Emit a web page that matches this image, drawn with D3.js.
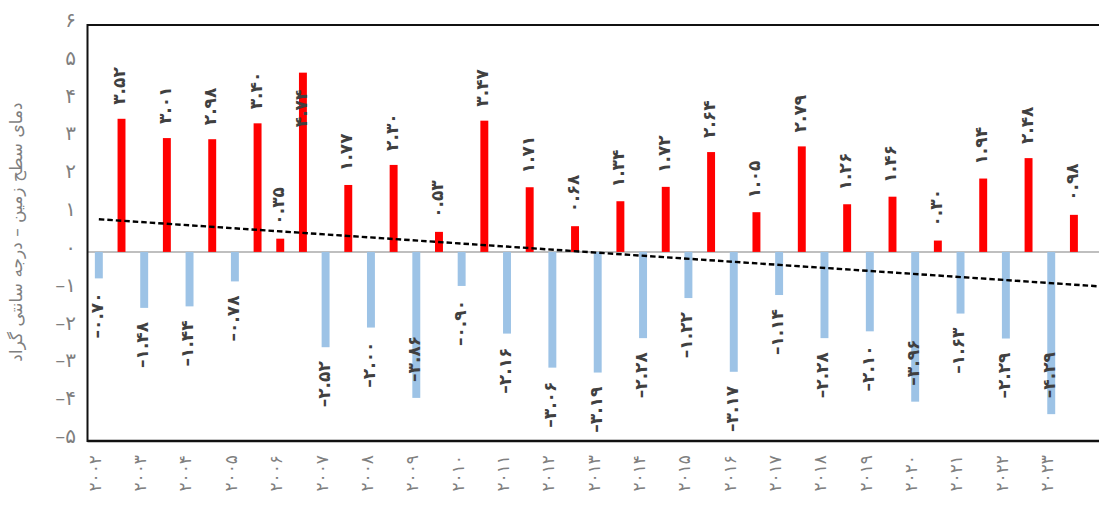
<!DOCTYPE html>
<html><head><meta charset="utf-8">
<script src="https://cdn.jsdelivr.net/npm/d3@7"></script>
<style>
body{margin:0;background:#fff}
svg{display:block}
text{font-family:"DejaVu Sans",sans-serif}
</style>
</head><body>
<svg id="c" width="1099" height="506"></svg>
<script>
// ---- data ----
const years = ["2002","2003","2004","2005","2006","2007","2008","2009","2010","2011","2012",
               "2013","2014","2015","2016","2017","2018","2019","2020","2021","2022","2023"];
// one value per half-slot (two per year), in drawing order
const values = [-0.70, 3.52, -1.48, 3.01, -1.44, 2.98, -0.78, 3.40, 0.35, 4.74,
                -2.52, 1.77, -2.00, 2.30, -3.86, 0.53, -0.90, 3.47, -2.16, 1.71,
                -3.06, 0.68, -3.19, 1.34, -2.28, 1.72, -1.22, 2.64, -3.17, 1.05,
                -1.14, 2.79, -2.28, 1.26, -2.10, 1.46, -3.96, 0.30, -1.63, 1.94,
                -2.29, 2.48, -4.29, 0.98];
const yTicks = [-5,-4,-3,-2,-1,0,1,2,3,4,5,6];
const yTitle = "دمای سطح زمین – درجه سانتی گراد";

// ---- helpers ----
const faDigits = "۰۱۲۳۴۵۶۷۸۹";
const toFa = s => String(s).replace(/[0-9]/g, d => faDigits[+d]).replace(/^-/, "–");

const svg = d3.select("#c");
const W = 1099;
const pLeft = 87.5, pTop = 25, pBottom = 441;
const step = 22.676;
const n = values.length;

const x = d3.scaleBand().domain(d3.range(n))
  .range([pLeft, pLeft + step * n]).paddingInner(0.65).paddingOuter(0.325);
const cx = i => x(i) + x.bandwidth() / 2;
const y = d3.scaleLinear().domain([-5, 6]).range([pBottom, pTop]);

// zero line
svg.append("line").attr("x1", pLeft).attr("x2", W).attr("y1", y(0)).attr("y2", y(0))
  .attr("stroke", "#bfbfbf").attr("stroke-width", 2);

// bars
svg.append("g").selectAll("rect").data(values).join("rect")
  .attr("x", (d, i) => x(i)).attr("width", x.bandwidth())
  .attr("y", d => y(Math.max(0, d))).attr("height", d => Math.abs(y(d) - y(0)))
  .attr("fill", d => d >= 0 ? "#ff0000" : "#9dc3e6");

// trend line (least squares, forecast forward 1 period)
const idx = d3.range(n);
const mi = d3.mean(idx), mv = d3.mean(values);
const slope = d3.sum(idx, i => (i - mi) * (values[i] - mv)) / d3.sum(idx, i => (i - mi) ** 2);
const icpt = mv - slope * mi;
const xi = d3.scaleLinear().domain([0, n - 1]).range([cx(0), cx(n - 1)]);
svg.append("line")
  .attr("x1", xi(0)).attr("y1", y(icpt))
  .attr("x2", xi(n)).attr("y2", y(icpt + slope * n))
  .attr("stroke", "#000").attr("stroke-width", 2.4).attr("stroke-dasharray", "5.5,3");

// frame
const frame = svg.append("g").attr("stroke", "#111").attr("stroke-width", 2).attr("fill", "none");
frame.append("line").attr("x1", pLeft).attr("x2", W).attr("y1", pTop).attr("y2", pTop);
frame.append("line").attr("x1", pLeft).attr("x2", W).attr("y1", pBottom).attr("y2", pBottom).attr("stroke-width", 2.5);
frame.append("line").attr("x1", pLeft).attr("x2", pLeft).attr("y1", pTop - 1).attr("y2", pBottom + 1);

// value labels
const lg = svg.append("g");
values.forEach((v, i) => {
  const t = lg.append("text").text(toFa(v.toFixed(2)))
    .attr("font-size", 17).attr("font-weight", "bold").attr("fill", "#404040")
    .attr("dy", "0.35em");
  const len = t.node().getComputedTextLength();
  let py, anchor;
  if (v >= 0) {
    const out = y(v) - 14;
    if (out - len < pTop) { py = y(v) + 17; anchor = "end"; }
    else { py = out; anchor = "start"; }
  } else {
    const out = y(v) + 14;
    if (out + len > pBottom) { py = y(v) - 16; anchor = "start"; }
    else { py = out; anchor = "end"; }
  }
  t.attr("text-anchor", anchor)
   .attr("transform", `translate(${cx(i) - 2},${py}) rotate(-90)`);
});

// y tick labels
svg.append("g").selectAll("text").data(yTicks).join("text")
  .attr("x", 76).attr("y", d => y(d)).attr("dy", "0.1em")
  .attr("text-anchor", "end").attr("font-size", 20).attr("fill", "#7f7f7f")
  .text(d => toFa(d));

// x tick labels (one per year, on the first slot of each pair)
svg.append("g").selectAll("text").data(years).join("text")
  .attr("text-anchor", "end").attr("font-size", 17).attr("fill", "#7f7f7f")
  .attr("dy", "0.35em")
  .attr("transform", (d, k) => `translate(${cx(2 * k) - 4},455) rotate(-90)`)
  .text(d => toFa(d));

// y axis title
svg.append("text").attr("text-anchor", "middle").attr("font-size", 17).attr("fill", "#7f7f7f")
  .attr("transform", "translate(22,232) rotate(-90)")
  .text(yTitle);
</script>
</body></html>
